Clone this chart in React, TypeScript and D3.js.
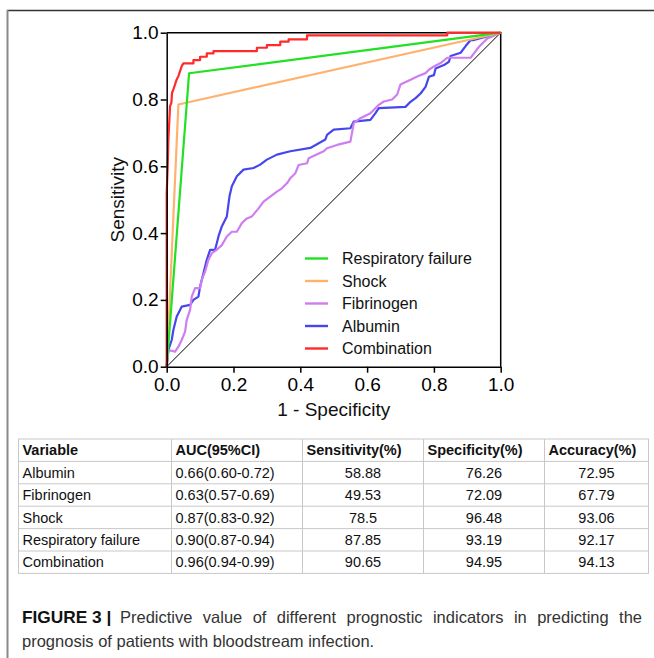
import React, { useEffect, useRef } from 'react';
import * as d3 from 'd3';

// ROC curves as [1 - specificity, sensitivity]
const respiratoryFailure: [number, number][] = [[0, 0], [0.067, 0.8785], [1, 1]];
const shock: [number, number][] = [[0, 0], [0.035, 0.785], [1, 1]];
const fibrinogen: [number, number][] = [
  [0, 0], [0.005, 0.05], [0.025, 0.045], [0.035, 0.06], [0.045, 0.08], [0.055, 0.105], [0.06, 0.14],
  [0.07, 0.17], [0.075, 0.21], [0.085, 0.235], [0.1, 0.235], [0.105, 0.26], [0.115, 0.285],
  [0.125, 0.32], [0.135, 0.34], [0.15, 0.35], [0.165, 0.364], [0.18, 0.39], [0.195, 0.404],
  [0.21, 0.404], [0.225, 0.43], [0.24, 0.444], [0.255, 0.45], [0.275, 0.474], [0.29, 0.494],
  [0.31, 0.509], [0.33, 0.524], [0.345, 0.534], [0.36, 0.549], [0.37, 0.564], [0.385, 0.579],
  [0.395, 0.604], [0.42, 0.609], [0.425, 0.624], [0.47, 0.645], [0.48, 0.654], [0.51, 0.664],
  [0.55, 0.674], [0.56, 0.729], [0.58, 0.744], [0.61, 0.759], [0.635, 0.784], [0.65, 0.794],
  [0.675, 0.8], [0.69, 0.815], [0.7, 0.845], [0.73, 0.859], [0.75, 0.869], [0.775, 0.879],
  [0.785, 0.889], [0.8, 0.899], [0.82, 0.909], [0.84, 0.925], [0.91, 0.925], [0.92, 0.938],
  [0.935, 0.958], [0.95, 0.973], [0.96, 0.983], [1, 1],
];
const albumin: [number, number][] = [
  [0, 0], [0.005, 0.05], [0.015, 0.08], [0.02, 0.11], [0.03, 0.15], [0.04, 0.17], [0.045, 0.18],
  [0.07, 0.185], [0.08, 0.2], [0.095, 0.21], [0.1, 0.24], [0.11, 0.28], [0.12, 0.32], [0.13, 0.35],
  [0.145, 0.35], [0.155, 0.39], [0.165, 0.42], [0.18, 0.45], [0.188, 0.51], [0.195, 0.54],
  [0.21, 0.57], [0.23, 0.59], [0.26, 0.595], [0.28, 0.605], [0.3, 0.62], [0.33, 0.635],
  [0.37, 0.645], [0.43, 0.655], [0.475, 0.68], [0.48, 0.694], [0.5, 0.71], [0.55, 0.714],
  [0.56, 0.734], [0.61, 0.739], [0.625, 0.759], [0.635, 0.774], [0.715, 0.778], [0.73, 0.793],
  [0.745, 0.804], [0.76, 0.818], [0.775, 0.838], [0.785, 0.868], [0.8, 0.873], [0.805, 0.893],
  [0.83, 0.903], [0.845, 0.913], [0.85, 0.93], [0.88, 0.94], [0.895, 0.96], [0.91, 0.978],
  [0.92, 0.978], [1, 1],
];
const combination: [number, number][] = [
  [0, 0], [0, 0.52], [0.003, 0.6], [0.005, 0.68], [0.008, 0.74], [0.01, 0.78], [0.014, 0.79],
  [0.016, 0.82], [0.02, 0.83], [0.025, 0.845], [0.03, 0.86], [0.035, 0.87], [0.04, 0.885],
  [0.045, 0.9], [0.05, 0.908], [0.08, 0.908], [0.08, 0.918], [0.1, 0.918], [0.1, 0.928],
  [0.12, 0.928], [0.12, 0.938], [0.14, 0.938], [0.14, 0.945], [0.27, 0.945], [0.27, 0.955],
  [0.3, 0.955], [0.3, 0.963], [0.34, 0.963], [0.34, 0.973], [0.365, 0.973], [0.365, 0.98],
  [0.42, 0.98], [0.42, 0.992], [0.84, 0.992], [0.84, 1], [1, 1],
];

const legendNames = ['Respiratory failure', 'Shock', 'Fibrinogen', 'Albumin', 'Combination'];
const legendColors = ['#22e022', '#ffb26e', '#cf7ef0', '#4646ee', '#ff2a2a'];
const axisTicks = [0, 0.2, 0.4, 0.6, 0.8, 1.0];

// Table under the chart
const tableHeader = ['Variable', 'AUC(95%CI)', 'Sensitivity(%)', 'Specificity(%)', 'Accuracy(%)'];
const tableVariables = ['Albumin', 'Fibrinogen', 'Shock', 'Respiratory failure', 'Combination'];
const tableAuc = ['0.66(0.60-0.72)', '0.63(0.57-0.69)', '0.87(0.83-0.92)', '0.90(0.87-0.94)', '0.96(0.94-0.99)'];
const tableSensitivity = ['58.88', '49.53', '78.5', '87.85', '90.65'];
const tableSpecificity = ['76.26', '72.09', '96.48', '93.19', '94.95'];
const tableAccuracy = ['72.95', '67.79', '93.06', '92.17', '94.13'];

const FONT = 'Liberation Sans, Arial, sans-serif';

const App = () => {
  const svgRef = useRef<SVGSVGElement>(null);

  useEffect(() => {
    const root = d3.select(svgRef.current);
    root.selectAll('*').remove();
    root.attr('width', 654).attr('height', 658);

    // page frame
    root.append('line').attr('x1', 7).attr('x2', 654).attr('y1', 10.5).attr('y2', 10.5)
      .attr('stroke', '#333').attr('stroke-width', 1.6);
    root.append('line').attr('x1', 7.5).attr('x2', 7.5).attr('y1', 10).attr('y2', 658)
      .attr('stroke', '#8a8a8a').attr('stroke-width', 2);

    // plot area
    const left = 166.7, top = 32.7, size = 334;
    const x = d3.scaleLinear().domain([0, 1]).range([left, left + size]);
    const y = d3.scaleLinear().domain([0, 1]).range([top + size, top]);

    const g = root.append('g');

    // box top/right
    g.append('path')
      .attr('d', `M${x(0)},${y(1)}H${x(1)}V${y(0)}`)
      .attr('fill', 'none').attr('stroke', '#000').attr('stroke-width', 1.5);

    // reference diagonal
    g.append('line').attr('x1', x(0)).attr('y1', y(0)).attr('x2', x(1)).attr('y2', y(1))
      .attr('stroke', '#000').attr('stroke-width', 1);

    const line = d3.line<[number, number]>().x(d => x(d[0])).y(d => y(d[1]));
    const curves = [albumin, fibrinogen, shock, respiratoryFailure, combination];
    const curveColors = [legendColors[3], legendColors[2], legendColors[1], legendColors[0], legendColors[4]];
    curves.forEach((c, i) => {
      g.append('path').attr('d', line(c)).attr('fill', 'none')
        .attr('stroke', curveColors[i]).attr('stroke-width', 2.2)
        .attr('stroke-linejoin', 'round');
    });

    // axes
    const fmt = d3.format('.1f');
    const xAxis = g.append('g').attr('transform', `translate(0,${y(0)})`)
      .call(d3.axisBottom(x).tickValues(axisTicks).tickFormat(d => fmt(d as number)).tickSize(6).tickPadding(5).tickSizeOuter(0));
    const yAxis = g.append('g').attr('transform', `translate(${x(0)},0)`)
      .call(d3.axisLeft(y).tickValues(axisTicks).tickFormat(d => fmt(d as number)).tickSize(6).tickPadding(2).tickSizeOuter(0));
    [xAxis, yAxis].forEach(a => {
      a.selectAll('path').attr('stroke', '#000').attr('stroke-width', 1.5);
      a.selectAll('line').attr('stroke', '#000').attr('stroke-width', 1.5);
      a.selectAll('text').attr('font-size', 19).attr('font-family', FONT).attr('fill', '#000');
    });

    g.append('text').attr('x', x(0.5)).attr('y', 416).attr('text-anchor', 'middle')
      .attr('font-size', 19).attr('font-family', FONT).attr('fill', '#111').text('1 - Specificity');
    g.append('text').attr('transform', `translate(124,${y(0.5)}) rotate(-90)`).attr('text-anchor', 'middle')
      .attr('font-size', 19).attr('font-family', FONT).attr('fill', '#111').text('Sensitivity');

    // legend
    const legendY = d3.scalePoint<string>().domain(legendNames).range([258.5, 348.5]);
    legendNames.forEach((name, i) => {
      const ly = legendY(name) as number;
      g.append('line').attr('x1', 305).attr('x2', 328).attr('y1', ly).attr('y2', ly)
        .attr('stroke', legendColors[i]).attr('stroke-width', 2.4);
      g.append('text').attr('x', 342).attr('y', ly).attr('dy', '0.35em')
        .attr('font-size', 16).attr('font-family', FONT).attr('fill', '#111').text(name);
    });

    // table
    const colEdges = [18.5, 171.5, 302.5, 423.5, 544.5, 648.5];
    const rowTop = 439, rowH = 22.4;
    const rows = tableVariables.map((v, i) => [v, tableAuc[i], tableSensitivity[i], tableSpecificity[i], tableAccuracy[i]]);
    const allRows = [tableHeader, ...rows];
    const tg = root.append('g');
    tg.append('rect').attr('x', colEdges[0]).attr('y', rowTop)
      .attr('width', colEdges[5] - colEdges[0]).attr('height', rowH * allRows.length)
      .attr('fill', 'none').attr('stroke', '#c8c8c8').attr('stroke-width', 1);
    allRows.forEach((_, r) => {
      if (r === 0) return;
      tg.append('line').attr('x1', colEdges[0]).attr('x2', colEdges[5])
        .attr('y1', rowTop + r * rowH).attr('y2', rowTop + r * rowH)
        .attr('stroke', '#c8c8c8').attr('stroke-width', 1);
    });
    colEdges.slice(1, 5).forEach(cx => {
      tg.append('line').attr('x1', cx).attr('x2', cx).attr('y1', rowTop).attr('y2', rowTop + rowH * allRows.length)
        .attr('stroke', '#c8c8c8').attr('stroke-width', 1);
    });
    allRows.forEach((row, r) => {
      row.forEach((cell, c) => {
        const centered = r > 0 && c >= 2;
        tg.append('text')
          .attr('x', centered ? (colEdges[c] + colEdges[c + 1]) / 2 : colEdges[c] + 4)
          .attr('y', rowTop + r * rowH + rowH / 2).attr('dy', '0.36em')
          .attr('text-anchor', centered ? 'middle' : 'start')
          .attr('font-size', 14.5).attr('font-family', FONT)
          .attr('font-weight', r === 0 ? 'bold' : 'normal')
          .attr('fill', '#111').text(cell);
      });
    });

    // caption (first line is justified in the original, so widen the word gaps to fit)
    root.append('text').attr('x', 22).attr('y', 623).attr('font-size', 17.3).attr('font-family', FONT)
      .attr('font-weight', 'bold').attr('fill', '#111').text('FIGURE 3 |');
    const capWords = 'Predictive value of different prognostic indicators in predicting the';
    const cap = root.append('text').attr('x', 120).attr('y', 623).attr('font-size', 16.5).attr('font-family', FONT)
      .attr('fill', '#333').text(capWords);
    const natural = (cap.node() as SVGTextElement).getComputedTextLength();
    const gaps = capWords.split(' ').length - 1;
    cap.attr('word-spacing', Math.max(0, (522 - natural) / gaps));
    root.append('text').attr('x', 22).attr('y', 647).attr('font-size', 16.5).attr('font-family', FONT).attr('fill', '#333')
      .text('prognosis of patients with bloodstream infection.');
  }, []);

  return <svg ref={svgRef} style={{ position: 'absolute', left: 0, top: 0, background: '#fff' }}></svg>;
};

export default App;
